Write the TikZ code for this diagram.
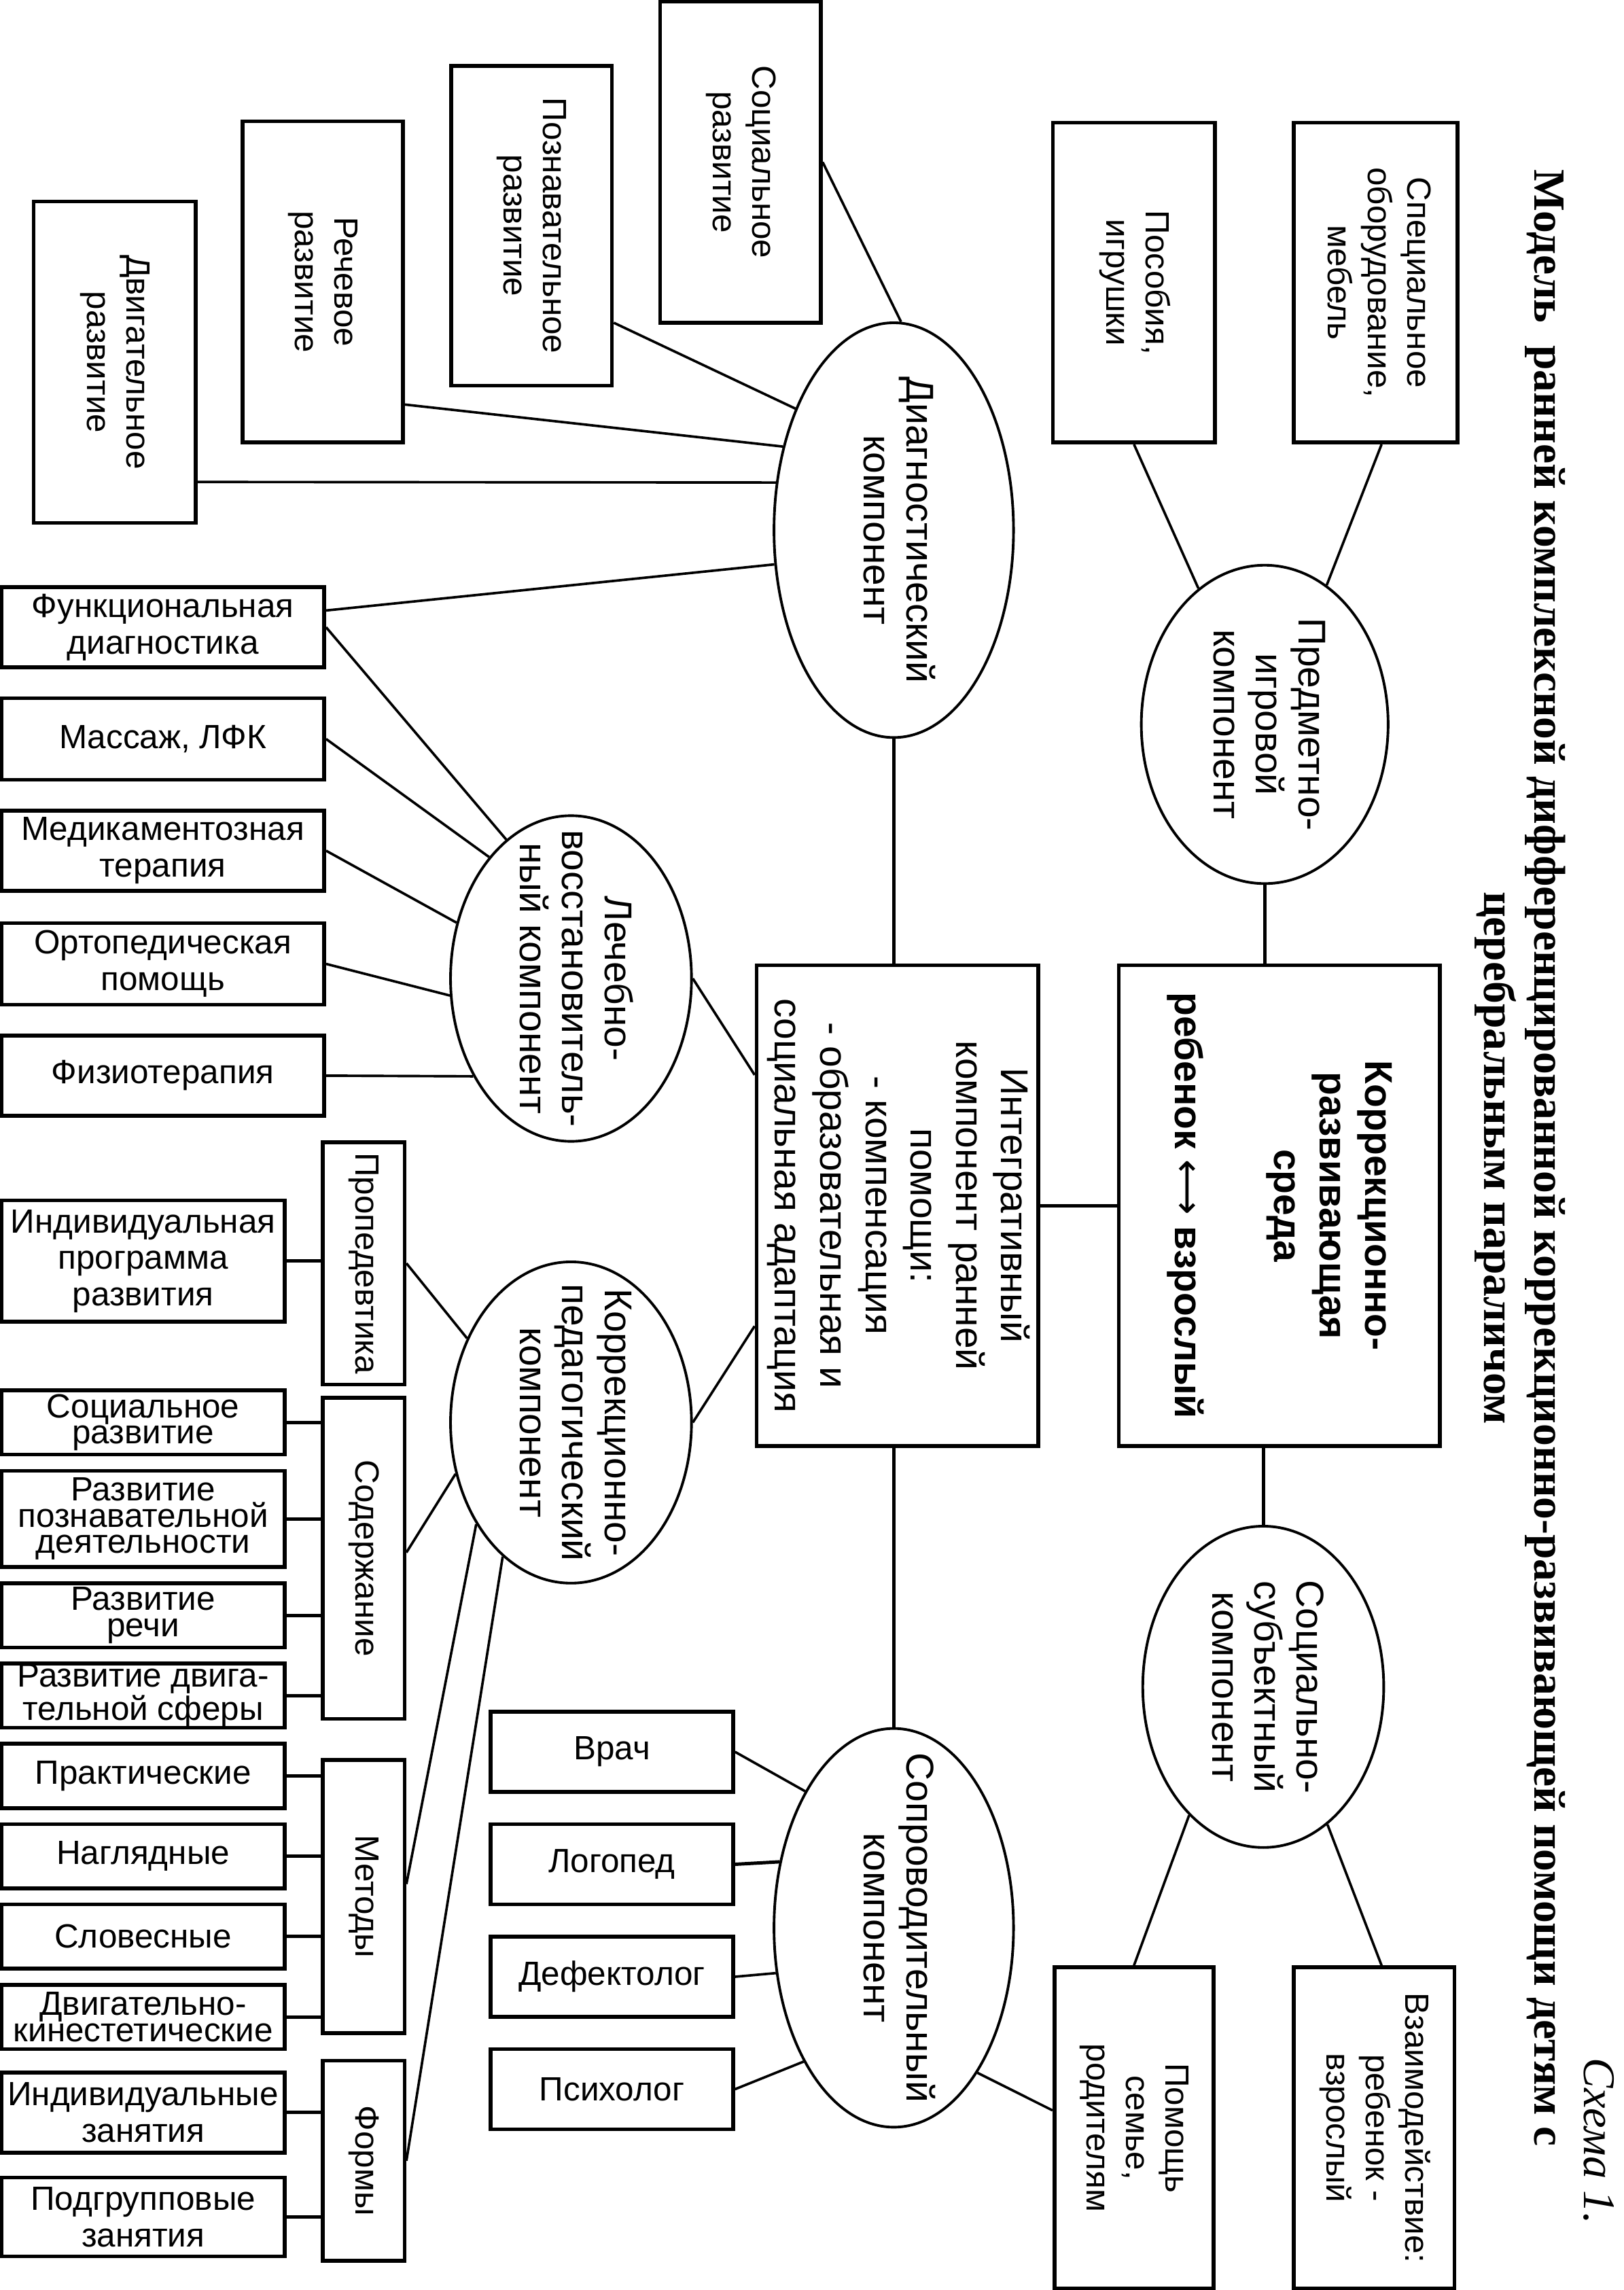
\documentclass[tikz,border=0pt]{standalone}
\usepackage{fontspec}
\usepackage{graphicx}
\setmainfont{Liberation Sans}
\newfontfamily\ttlfont{Liberation Serif}
\newfontfamily\symfont{DejaVu Sans}
\usetikzlibrary{shapes.geometric,calc}
\newcommand\rot[1]{\rotatebox{-90}{\begin{tabular}{@{}c@{}}#1\end{tabular}}}
\tikzset{
  bx/.style={draw, line width=2.6pt, inner sep=0pt, align=center, font=\fontsize{23}{25}\selectfont},
  tight/.style={font=\fontsize{23}{18}\selectfont},
  vbx/.style={bx, font=\fontsize{23}{27}\selectfont},
  el/.style={draw, ellipse, line width=1.8pt, inner sep=0pt},
  elt/.style={inner sep=0pt, font=\fontsize{26.5}{29}\selectfont},
  ln/.style={line width=1.7pt},
  lnc/.style={line width=2.3pt},
}
\begin{document}
\begin{tikzpicture}[x=1pt,y=-1pt]
\fill[white] (0,0) rectangle (1112,1568);
\useasboundingbox (0,0) rectangle (1112,1568);

% title
\node[rotate=-90, anchor=base, font=\ttlfont\bfseries\fontsize{30.5}{34}\selectfont] (t1) at (1050.6,793)
  {Модель\ \ ранней комплексной дифференцированной коррекционно-развивающей помощи детям с};
\node[rotate=-90, anchor=base, font=\ttlfont\bfseries\fontsize{30.5}{34}\selectfont] (t2) at (1016.4,793)
  {церебральным параличом};
\node[rotate=-90, font=\ttlfont\itshape\fontsize{31}{34}\selectfont] (schema) at (1095,1466) {Схема 1.};

% central boxes
\node[bx, minimum width=193pt, minimum height=329pt, font=\fontsize{26.5}{31}\selectfont] (integ) at (614.5,825.5)
  {\rot{Интегративный\\компонент ранней\\помощи:\\- компенсация\\- образовательная и\\социальная адаптация}};
\node[bx, minimum width=220pt, minimum height=329pt, font=\bfseries\fontsize{26.5}{31}\selectfont] (sreda) at (876,825.5)
  {\rot{Коррекционно-\\развивающая\\среда\\[37pt]ребенок {\symfont\mdseries ⟷} взрослый}};

% ellipses
\node[el, minimum width=169pt, minimum height=218pt, label={[elt]center:\rot{Предметно-\\игровой\\компонент}}] (predm) at (866,496) {};
\node[el, minimum width=164pt, minimum height=284pt, label={[elt]center:\rot{Диагностический\\компонент}}] (diag) at (612,363) {};
\node[el, minimum width=165pt, minimum height=223pt, label={[elt]center:\rot{Лечебно-\\восстановитель-\\ный компонент}}] (lech) at (391,670) {};
\node[el, minimum width=165pt, minimum height=220pt, label={[elt]center:\rot{Коррекционно-\\педагогический\\компонент}}] (korr) at (391,974) {};
\node[el, minimum width=165pt, minimum height=220pt, label={[elt]center:\rot{Социально-\\субъектный\\компонент}}] (socsub) at (865,1155) {};
\node[el, minimum width=164pt, minimum height=273pt, label={[elt]center:\rot{Сопроводительный\\компонент}}] (soprov) at (612,1320) {};

% top right boxes
\node[vbx, minimum width=112pt, minimum height=219pt] (spec) at (942,193.5) {\rot{Специальное\\оборудование,\\мебель}};
\node[vbx, minimum width=111pt, minimum height=219pt] (posob) at (776.5,193.5) {\rot{Пособия,\\игрушки}};

% diagnostic boxes
\node[vbx, minimum width=110pt, minimum height=220pt] (socdev) at (507,111) {\rot{Социальное\\развитие}};
\node[vbx, minimum width=110pt, minimum height=219pt] (poznav) at (364,154.5) {\rot{Познавательное\\развитие}};
\node[vbx, minimum width=110pt, minimum height=220pt] (rech) at (221,193) {\rot{Речевое\\развитие}};
\node[vbx, minimum width=111pt, minimum height=220pt] (dvig) at (78.5,248) {\rot{Двигательное\\развитие}};

% medical boxes
\node[bx, minimum width=221pt, minimum height=55pt] (funk) at (111.5,429.5) {Функциональная\\диагностика};
\node[bx, minimum width=221pt, minimum height=56pt] (massazh) at (111.5,506) {Массаж, ЛФК};
\node[bx, minimum width=221pt, minimum height=55pt] (medik) at (111.5,582.5) {Медикаментозная\\терапия};
\node[bx, minimum width=221pt, minimum height=56pt] (orto) at (111.5,660) {Ортопедическая\\помощь};
\node[bx, minimum width=221pt, minimum height=55pt] (fizio) at (111.5,736.5) {Физиотерапия};

% pedagogical
\node[vbx, minimum width=56pt, minimum height=166pt] (proped) at (249,865) {\rot{Пропедевтика}};
\node[bx, minimum width=194pt, minimum height=83pt] (indiv) at (98,863.5) {Индивидуальная\\программа\\развития};
\node[vbx, minimum width=56pt, minimum height=220pt] (soderzh) at (249,1067) {\rot{Содержание}};
\node[bx, tight, minimum width=194pt, minimum height=44pt] (socr) at (98,974) {Социальное\\развитие};
\node[bx, tight, minimum width=194pt, minimum height=66pt] (poznd) at (98,1040) {Развитие\\познавательной\\деятельности};
\node[bx, tight, minimum width=194pt, minimum height=44pt] (rechi) at (98,1106) {Развитие\\речи};
\node[bx, tight, minimum width=194pt, minimum height=44pt] (dvigsf) at (98,1161) {Развитие двига-\\тельной сферы};
\node[vbx, minimum width=56pt, minimum height=187pt] (metody) at (249,1298.5) {\rot{Методы}};
\node[bx, minimum width=194pt, minimum height=44pt] (prakt) at (98,1216) {Практические};
\node[bx, minimum width=194pt, minimum height=44pt] (nagl) at (98,1271) {Наглядные};
\node[bx, minimum width=194pt, minimum height=44pt] (slov) at (98,1326) {Словесные};
\node[bx, tight, minimum width=194pt, minimum height=44pt] (dvkin) at (98,1381) {Двигательно-\\кинестетические};
\node[vbx, minimum width=56pt, minimum height=137pt] (formy) at (249,1479.5) {\rot{Формы}};
\node[bx, minimum width=194pt, minimum height=55pt] (indz) at (98,1446.5) {Индивидуальные\\занятия};
\node[bx, minimum width=194pt, minimum height=54pt] (podgr) at (98,1518) {Подгрупповые\\занятия};

% accompanying
\node[bx, minimum width=166pt, minimum height=55pt] (vrach) at (419,1199.5) {Врач};
\node[bx, minimum width=166pt, minimum height=55pt] (logop) at (419,1276.5) {Логопед};
\node[bx, minimum width=166pt, minimum height=55pt] (defekt) at (419,1353.5) {Дефектолог};
\node[bx, minimum width=166pt, minimum height=55pt] (psih) at (419,1430.5) {Психолог};

% social-subject boxes
\node[vbx, minimum width=109pt, minimum height=220pt] (pomosh) at (776.5,1457) {\rot{Помощь\\семье,\\родителям}};
\node[vbx, minimum width=110pt, minimum height=220pt] (vzaim) at (941,1457) {\rot{Взаимодействие:\\ребенок -\\взрослый}};

% connectors: right column
\draw[ln] ([xshift=4pt]spec.south) -- (predm.66);
\draw[ln] (posob.south) -- (predm.116);
\draw[lnc] (predm.south) -- (predm.south |- sreda.north);
\draw[lnc] (integ.east) -- (sreda.west);
\draw[lnc] (socsub.north |- sreda.south) -- (socsub.north);
\draw[ln] (socsub.240) -- (pomosh.north);
\draw[ln] (socsub.295) -- ([xshift=5pt]vzaim.north);

% diagnostic
\draw[ln] (socdev.east) -- (diag.88);
\draw[ln] (poznav.east |- 0,221) -- (diag.129);
\draw[ln] (rech.east |- 0,277) -- (diag.143);
\draw[ln] (dvig.east |- 0,330) -- (diag.158);
\draw[ln] (funk.east |- 0,418) -- (diag.196);
\draw[lnc] (diag.south) -- (diag.south |- integ.north);
\draw[lnc] (soprov.north |- integ.south) -- (soprov.north);

% medical
\draw[ln] (funk.east) -- (lech.115);
\draw[ln] (massazh.east) -- (lech.124);
\draw[ln] (medik.east) -- (lech.154);
\draw[ln] (orto.east) -- (lech.188);
\draw[ln] (fizio.east) -- (lech.225);
\draw[ln] (lech.east) -- (integ.west |- 0,736);

% pedagogical
\draw[ln] (proped.east) -- (korr.141);
\draw[ln] (soderzh.east |- 0,1063) -- (korr.204);
\draw[ln] (korr.227) -- (metody.east |- 0,1290);
\draw[ln] (korr.243) -- (formy.east);
\draw[ln] (korr.east) -- (integ.west |- 0,908);
\draw[lnc] (indiv.east) -- (proped.west |- indiv.east);
\foreach \n in {socr,poznd,rechi,dvigsf} \draw[lnc] (\n.east) -- (soderzh.west |- \n.east);
\foreach \n in {prakt,nagl,slov,dvkin} \draw[lnc] (\n.east) -- (metody.west |- \n.east);
\foreach \n in {indz,podgr} \draw[lnc] (\n.east) -- (formy.west |- \n.east);

% accompanying
\draw[ln] (vrach.east) -- (soprov.123);
\draw[lnc] (logop.east) -- (soprov.150);
\draw[ln] (defekt.east) -- (soprov.201);
\draw[ln] (psih.east) -- (soprov.236);
\draw[ln] (soprov.300) -- (pomosh.west |- 0,1445);
\end{tikzpicture}
\end{document}
